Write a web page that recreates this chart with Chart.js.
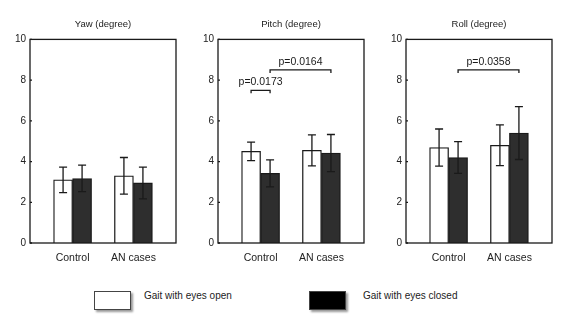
<!DOCTYPE html>
<html>
<head>
<meta charset="utf-8">
<script src="https://cdn.jsdelivr.net/npm/chart.js"></script>
<style>
    body { margin:0; background:#fff; width:571px; height:329px; position:relative; overflow:hidden;
           font-family:"Liberation Sans", Arial, sans-serif; color:#222; }
    .panel { position:absolute; top:0; width:180px; height:270px; }
    .key-box { position:absolute; top:291px; width:35px; height:17px; border:1.3px solid #444;
               box-shadow:2px 2px 2px #999; }
    .key-text { position:absolute; top:290px; font-size:10px; line-height:12px; }
</style>
</head>
<body>
<div class="panel" style="left:0px"><canvas id="yawChart"></canvas></div>
<div class="panel" style="left:188px"><canvas id="pitchChart"></canvas></div>
<div class="panel" style="left:376px"><canvas id="rollChart"></canvas></div>

<div class="key-box" style="left:94px; background:#fff;"></div>
<div class="key-text" id="keyOpen" style="left:144px;"></div>
<div class="key-box" style="left:309px; background:#000;"></div>
<div class="key-text" id="keyClosed" style="left:363px;"></div>

<script>
// categories and tick labels
const categories = ['Control', 'AN cases'];
const yTicks = [0, 2, 4, 6, 8, 10];
const seriesNames = ['Gait with eyes open', 'Gait with eyes closed'];

// means and SD (degree)
const yawOpen = [3.1, 3.3];
const yawOpenErr = [0.63, 0.9];
const yawClosed = [3.17, 2.95];
const yawClosedErr = [0.65, 0.78];

const pitchOpen = [4.5, 4.55];
const pitchOpenErr = [0.45, 0.76];
const pitchClosed = [3.42, 4.42];
const pitchClosedErr = [0.66, 0.91];

const rollOpen = [4.69, 4.8];
const rollOpenErr = [0.91, 1.0];
const rollClosed = [4.2, 5.4];
const rollClosedErr = [0.78, 1.3];

// significance brackets: [fromSeries, fromCat, toSeries, toCat, yValue, label]
const yawBrackets = [];
const pitchBrackets = [[0, 0, 1, 0, 7.5, 'p=0.0173'], [1, 0, 1, 1, 8.5, 'p=0.0164']];
const rollBrackets = [[1, 0, 1, 1, 8.5, 'p=0.0358']];

document.getElementById('keyOpen').textContent = seriesNames[0];
document.getElementById('keyClosed').textContent = seriesNames[1];

const FONT = '"Liberation Sans", Arial, sans-serif';
const INK = '#1a1a1a';

// box, inward ticks, error bars and p-value brackets
const panelDecor = {
    id: 'panelDecor',
    afterDatasetsDraw(chart, args, opts) {
        const ctx = chart.ctx;
        const area = chart.chartArea;
        const y = chart.scales.y;
        ctx.save();
        ctx.strokeStyle = INK;
        ctx.lineWidth = 1.3;

        // error bars
        chart.data.datasets.forEach((ds, di) => {
            const meta = chart.getDatasetMeta(di);
            meta.data.forEach((bar, i) => {
                const v = ds.data[i].y, e = ds.errors[i];
                const top = y.getPixelForValue(v + e), bot = y.getPixelForValue(v - e);
                ctx.beginPath();
                ctx.moveTo(bar.x, top); ctx.lineTo(bar.x, bot);
                ctx.moveTo(bar.x - 4, top); ctx.lineTo(bar.x + 4, top);
                ctx.moveTo(bar.x - 4, bot); ctx.lineTo(bar.x + 4, bot);
                ctx.stroke();
            });
        });

        // plot frame
        ctx.strokeRect(area.left, area.top, area.right - area.left, area.bottom - area.top);

        // small inward ticks on the y axis
        y.ticks.forEach(t => {
            const py = y.getPixelForValue(t.value);
            ctx.beginPath();
            ctx.moveTo(area.left, py); ctx.lineTo(area.left + 2, py);
            ctx.stroke();
        });

        // brackets
        ctx.fillStyle = INK;
        ctx.font = '10.5px ' + FONT;
        ctx.textAlign = 'center';
        ctx.textBaseline = 'middle';
        (opts.brackets || []).forEach(b => {
            const x1 = chart.getDatasetMeta(b[0]).data[b[1]].x;
            const x2 = chart.getDatasetMeta(b[2]).data[b[3]].x;
            const py = y.getPixelForValue(b[4]);
            ctx.beginPath();
            ctx.moveTo(x1, py + 3); ctx.lineTo(x1, py); ctx.lineTo(x2, py); ctx.lineTo(x2, py + 3);
            ctx.stroke();
            ctx.fillText(b[5], (x1 + x2) / 2, py - 8);
        });
        ctx.restore();
    }
};

function makePanel(canvasId, title, open, openErr, closed, closedErr, brackets) {
    new Chart(document.getElementById(canvasId), {
        type: 'bar',
        data: {
            datasets: [{
                label: seriesNames[0],
                data: open.map((v, i) => ({ x: i, y: v })),
                errors: openErr,
                backgroundColor: '#ffffff',
                borderColor: INK,
                borderWidth: 1.3,
                barThickness: 19
            }, {
                label: seriesNames[1],
                data: closed.map((v, i) => ({ x: i, y: v })),
                errors: closedErr,
                backgroundColor: '#2e2e2e',
                borderColor: INK,
                borderWidth: 1.3,
                barThickness: 19
            }]
        },
        options: {
            responsive: true,
            maintainAspectRatio: false,
            animation: false,
            layout: { padding: { left: 0, right: 4, top: 0, bottom: 0 } },
            plugins: {
                legend: { display: false },
                tooltip: { enabled: false },
                title: {
                    display: true, text: title, fullSize: false, color: '#222',
                    font: { family: FONT, size: 9.5, weight: 'normal' },
                    padding: { top: 19, bottom: 9 }
                },
                panelDecor: { brackets: brackets }
            },
            scales: {
                x: {
                    type: 'linear', min: -0.7, max: 1.7, offset: false,
                    grid: { display: false, drawTicks: false },
                    border: { display: false },
                    afterBuildTicks: s => { s.ticks = categories.map((c, i) => ({ value: i })); },
                    afterFit: s => { s.height = 27; },
                    ticks: {
                        callback: v => categories[v],
                        color: '#222', padding: 9, maxRotation: 0, autoSkip: false,
                        font: { family: FONT, size: 10.5 }
                    }
                },
                y: {
                    min: 0, max: 10,
                    grid: { display: false, drawTicks: false },
                    border: { display: false },
                    afterBuildTicks: s => { s.ticks = yTicks.map(v => ({ value: v })); },
                    afterFit: s => { s.width = 30; },
                    ticks: { color: '#222', padding: 4, font: { family: FONT, size: 10 } }
                }
            }
        },
        plugins: [panelDecor]
    });
}

makePanel('yawChart', 'Yaw (degree)', yawOpen, yawOpenErr, yawClosed, yawClosedErr, yawBrackets);
makePanel('pitchChart', 'Pitch (degree)', pitchOpen, pitchOpenErr, pitchClosed, pitchClosedErr, pitchBrackets);
makePanel('rollChart', 'Roll (degree)', rollOpen, rollOpenErr, rollClosed, rollClosedErr, rollBrackets);
</script>
</body>
</html>
